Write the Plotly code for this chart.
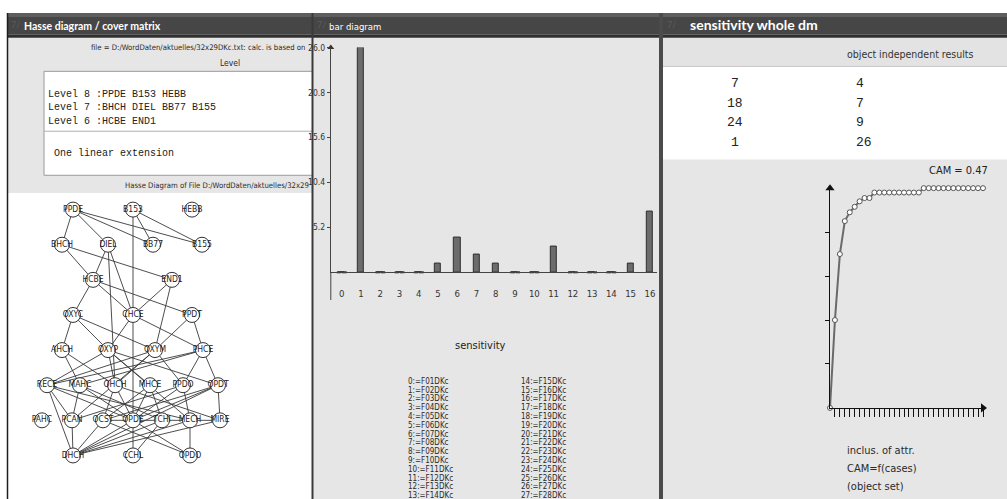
import plotly.graph_objects as go

W, H = 1007, 499

# ---------------------------------------------------------------- data
# bar diagram: sensitivity per attribute index
bar_index = list(range(17))
bar_values = [0, 26, 0, 0, 0, 1, 4, 2, 1, 0, 0, 3, 0, 0, 0, 1, 7]
bar_ticktext = ["5.2", "10.4", "15.6", "20.8", "26.0"]
bar_tickvals = [5.2, 10.4, 15.6, 20.8, 26.0]

# attribute legend of the bar diagram
attr_names = ["F%02dDKc" % (i + 1) for i in range(28)]

# object independent results table
table_left = [7, 18, 24, 1]
table_right = [4, 7, 9, 26]

# CAM curve (inclusion of attributes as a function of cases)
cam_cases = list(range(32))
cam_values = [0.0, 0.40, 0.70, 0.85, 0.89, 0.915, 0.94, 0.955, 0.955, 0.98,
              0.98, 0.98, 0.98, 0.98, 0.98, 0.98, 0.98, 0.98, 0.98,
              1.0, 1.0, 1.0, 1.0, 1.0, 1.0, 1.0, 1.0, 1.0, 1.0, 1.0, 1.0, 1.0]
cam_value = 0.47

# Hasse diagram: node names, level and horizontal position
hasse_levels = {
    8: ["PPDE", "B153", "HEBB"],
    7: ["BHCH", "DIEL", "BB77", "B155"],
    6: ["HCBE", "END1"],
    5: ["OXYC", "CHCE", "PPDT"],
    4: ["AHCH", "OXYP", "OXYM", "PHCE"],
    3: ["RECE", "MAHC", "OHCH", "MHCE", "PPDO", "OPDT"],
    2: ["PAHC", "PCAN", "OCST", "OPDE", "TCHI", "MECH", "MIRE"],
    1: ["DHCH", "CCHL", "OPDO"],
}
hasse_pos = {
    8: [73, 133, 192],
    7: [62, 108, 153, 202],
    6: [93, 172],
    5: [73, 133, 192],
    4: [62, 108, 155, 203],
    3: [47, 80, 115, 150, 183, 218],
    2: [42, 72, 103, 133, 162, 190, 220],
    1: [73, 133, 190],
}
hasse_edges = [
    ("PPDE", "BHCH"), ("PPDE", "DIEL"), ("PPDE", "BB77"), ("PPDE", "B155"),
    ("B153", "BB77"), ("B153", "B155"), ("B153", "CCHL"),
    ("BHCH", "HCBE"), ("BHCH", "END1"), ("DIEL", "HCBE"), ("DIEL", "CHCE"),
    ("DIEL", "OHCH"),
    ("HCBE", "OXYC"), ("HCBE", "CHCE"), ("HCBE", "PPDT"),
    ("END1", "CHCE"), ("END1", "OXYM"),
    ("OXYC", "AHCH"), ("OXYC", "OXYP"), ("OXYC", "OXYM"),
    ("CHCE", "OXYP"), ("CHCE", "PHCE"), ("PPDT", "OXYM"), ("PPDT", "PHCE"),
    ("AHCH", "MAHC"), ("AHCH", "OHCH"),
    ("OXYP", "RECE"), ("OXYP", "OHCH"), ("OXYP", "MHCE"), ("OXYP", "OPDT"),
    ("OXYP", "MECH"),
    ("OXYM", "RECE"), ("OXYM", "OHCH"), ("OXYM", "PPDO"), ("OXYM", "PCAN"),
    ("PHCE", "RECE"), ("PHCE", "MAHC"), ("PHCE", "PPDO"), ("PHCE", "OPDT"),
    ("RECE", "OPDE"), ("RECE", "MECH"), ("RECE", "DHCH"), ("RECE", "PCAN"),
    ("MAHC", "PCAN"), ("MAHC", "OPDE"), ("MAHC", "TCHI"),
    ("OHCH", "OCST"), ("OHCH", "OPDE"), ("OHCH", "MIRE"),
    ("MHCE", "OPDE"), ("MHCE", "TCHI"), ("MHCE", "OCST"),
    ("PPDO", "OPDE"), ("PPDO", "MECH"), ("PPDO", "PCAN"),
    ("OPDT", "OPDE"), ("OPDT", "MIRE"), ("OPDT", "DHCH"), ("OPDT", "OCST"),
    ("PCAN", "DHCH"), ("OCST", "DHCH"), ("OPDE", "DHCH"), ("OPDE", "OPDO"),
    ("OCST", "OPDO"), ("TCHI", "CCHL"), ("MECH", "DHCH"), ("MIRE", "DHCH"),
    ("MECH", "OPDO"), ("TCHI", "DHCH"), ("MIRE", "OCST"),
]

level_text = ["Level 8 :PPDE B153 HEBB",
              "Level 7 :BHCH DIEL BB77 B155",
              "Level 6 :HCBE END1"]

# ---------------------------------------------------------------- styling
NARROW = "Liberation Sans Narrow, DejaVu Sans Condensed, Arial Narrow, sans-serif"
MONO = "Liberation Mono, Courier New, monospace"
TITLE = "Lato, Open Sans, sans-serif"
BG = "#e6e6e6"
INK = "#2a2a2a"


def fx(x):
    return x / W


def fy(y):
    return 1 - y / H


shapes = []


def rect(x0, y0, x1, y1, fill, line=None, lw=0):
    shapes.append(dict(type="rect", xref="paper", yref="paper",
                       x0=fx(x0), x1=fx(x1), y0=fy(y1), y1=fy(y0),
                       fillcolor=fill, layer="below",
                       line=dict(color=line or fill, width=lw)))


def hline(x0, x1, y, color, lw=1):
    shapes.append(dict(type="line", xref="paper", yref="paper",
                       x0=fx(x0), x1=fx(x1), y0=fy(y), y1=fy(y),
                       line=dict(color=color, width=lw)))


def vline(x, y0, y1, color, lw=1):
    shapes.append(dict(type="line", xref="paper", yref="paper",
                       x0=fx(x), x1=fx(x), y0=fy(y0), y1=fy(y1),
                       line=dict(color=color, width=lw)))


annotations = []


def text(s, x, y, size, color=INK, family=NARROW, xanchor="left"):
    annotations.append(dict(text=s, x=fx(x), y=fy(y), xref="paper", yref="paper",
                            showarrow=False, xanchor=xanchor, yanchor="middle",
                            font=dict(size=size, color=color, family=family)))


# panel backgrounds
rect(7, 33, 312, 190, BG)
rect(44, 67, 313, 172, "white", "#9a9a9a", 1)
hline(44, 312, 127.5, "#b0b0b0", 1)
rect(313, 33, 659, 499, BG)
rect(663, 33, 1007, 62, "#e3e3e3")
rect(663, 62, 1007, 156, "white")
rect(663, 156, 1007, 499, BG)
hline(663, 1007, 62, "#c4c4c4", 1)

# title bars with their faint window icon
for x0, x1 in [(7, 312), (313, 659), (663, 1007)]:
    rect(x0, 8, x1, 12, "#5e5e5e")
    rect(x0, 12, x1, 30, "#464646")
    rect(x0, 30, x1, 33, "#2f2f2f")
    text("7/", x0 + 2, 20, 9, "#5c5c5c", TITLE)

# panel borders
vline(7.5, 8, 499, "#1e1e1e", 1.5)
vline(312.5, 8, 499, "#3a3a3a", 2)
rect(659, 8, 663, 499, "#4b4b4b")
vline(330.8, 270, 298, "#444444", 1)

# window titles
text("<b>Hasse diagram / cover matrix</b>", 22, 21, 10.5, "white", TITLE)
text("bar diagram", 327, 22, 9.5, "white", NARROW)
text("<b>sensitivity whole dm</b>", 688, 20, 14, "white", TITLE)

# Hasse panel texts
text("file = D:/WordDaten/aktuelles/32x29DKc.txt: calc. is based on", 89, 43, 7.7)
text("Level", 230, 59, 8.5, xanchor="center")
for i, s in enumerate(level_text):
    text(s, 46, 90 + 14 * i, 10, "#222", MONO)
text("One linear extension", 52, 150, 10, "#222", MONO)
text("Hasse Diagram of File D:/WordDaten/aktuelles/32x29", 123, 182, 7.7)

# bar panel texts
text("sensitivity", 480, 344, 11, "#222", NARROW, "center")
for k, name in enumerate(attr_names):
    col, row = divmod(k, 14)
    text("%d:=%s" % (k, name), 406 + 113 * col, 380 + 8.9 * row, 8)

# sensitivity table
text("object independent results", 910, 50, 10.5, "#333", NARROW, "center")
for i, (a, b) in enumerate(zip(table_left, table_right)):
    text(str(a), 735, 79 + 20 * i, 13, "#222", MONO, "center")
    text(str(b), 854, 79 + 20 * i, 13, "#222", MONO)

text("CAM = %.2f" % cam_value, 958, 167, 11, "#222", NARROW, "center")
text("inclus. of attr.", 845, 450, 11)
text("CAM=f(cases)", 845, 468, 11)
text("(object set)", 845, 486, 11)

# ---------------------------------------------------------------- traces
fig = go.Figure()

# bar diagram
fig.add_trace(go.Bar(x=bar_index, y=bar_values, width=0.32,
                     marker=dict(color="#6c6c6c", line=dict(color="#2e2e2e", width=1)),
                     xaxis="x", yaxis="y", showlegend=False))
zero_idx = [i for i, v in zip(bar_index, bar_values) if v == 0]
fig.add_trace(go.Scatter(x=zero_idx, y=[0] * len(zero_idx), mode="markers",
                         marker=dict(symbol="line-ew", size=7,
                                     line=dict(color="#2e2e2e", width=2)),
                         xaxis="x", yaxis="y", showlegend=False, cliponaxis=False))
fig.add_trace(go.Scatter(x=[-0.57], y=[max(bar_tickvals)], mode="markers",
                         marker=dict(symbol="triangle-up", size=6, color="#333"),
                         xaxis="x", yaxis="y", showlegend=False, cliponaxis=False))

# CAM curve
fig.add_trace(go.Scatter(x=cam_cases, y=cam_values, mode="lines+markers",
                         line=dict(color="#6a6a6a", width=2),
                         marker=dict(symbol="circle", size=5, color="white",
                                     line=dict(color="#555", width=1)),
                         xaxis="x2", yaxis="y2", showlegend=False, cliponaxis=False))
fig.add_trace(go.Scatter(x=[0, cam_cases[-1]], y=[1.0, 0], mode="markers",
                         marker=dict(symbol=["triangle-up", "triangle-right"], size=8,
                                     color="#111"),
                         xaxis="x2", yaxis="y2", showlegend=False, cliponaxis=False))

# Hasse diagram
node_xy = {}
for lvl, names in hasse_levels.items():
    for name, xp in zip(names, hasse_pos[lvl]):
        node_xy[name] = (xp, lvl)
ex, ey = [], []
for a, b in hasse_edges:
    ex += [node_xy[a][0], node_xy[b][0], None]
    ey += [node_xy[a][1], node_xy[b][1], None]
fig.add_trace(go.Scatter(x=ex, y=ey, mode="lines", line=dict(color="#3a3a3a", width=0.9),
                         xaxis="x3", yaxis="y3", showlegend=False, hoverinfo="skip"))
names = list(node_xy)
fig.add_trace(go.Scatter(x=[node_xy[n][0] for n in names], y=[node_xy[n][1] for n in names],
                         mode="markers+text", text=names, textposition="middle center",
                         textfont=dict(size=8.5, color="#222", family=NARROW),
                         marker=dict(symbol="circle", size=15, color="white",
                                     line=dict(color="#333", width=1)),
                         xaxis="x3", yaxis="y3", showlegend=False, cliponaxis=False))

hidden = dict(visible=False, showgrid=False, zeroline=False)

fig.update_layout(
    width=W, height=H, margin=dict(l=0, r=0, t=0, b=0),
    paper_bgcolor="white", plot_bgcolor="rgba(0,0,0,0)",
    shapes=shapes, annotations=annotations, showlegend=False,
    xaxis=dict(domain=[fx(330.8), fx(657)], range=[-0.57, 16.37], anchor="y",
               tickvals=bar_index, ticks="outside", ticklen=12, tickcolor=BG,
               showline=True, linecolor="#444", linewidth=1, showgrid=False,
               zeroline=False, tickfont=dict(size=9.5, color="#333", family=NARROW)),
    yaxis=dict(domain=[fy(270), fy(43)], range=[0, 26], anchor="x", tickvals=bar_tickvals,
               ticktext=bar_ticktext, ticks="outside", ticklen=3, tickcolor="#444",
               showline=True, linecolor="#444", linewidth=1, showgrid=False,
               zeroline=False, tickfont=dict(size=8.5, color="#333", family=NARROW)),
    xaxis2=dict(domain=[fx(830), fx(983)], range=[0, cam_cases[-1]], anchor="y2",
                tickvals=cam_cases[1:], ticks="outside", ticklen=8, tickcolor="#111",
                showticklabels=False, showline=True, linecolor="#111", linewidth=1,
                showgrid=False, zeroline=False),
    yaxis2=dict(domain=[fy(407), fy(185)], range=[0, 1], anchor="x2",
                tickvals=[0.2, 0.4, 0.6, 0.8], ticks="outside", ticklen=4, tickcolor="#111",
                showticklabels=False, showline=True, linecolor="#111", linewidth=1,
                showgrid=False, zeroline=False),
    xaxis3=dict(domain=[fx(7), fx(312)], range=[7, 312], anchor="y3", **hidden),
    yaxis3=dict(domain=[fy(499), fy(190)], range=[-0.24, 8.47], anchor="x3", **hidden),
    bargap=0,
)

fig.write_html("out.html")
